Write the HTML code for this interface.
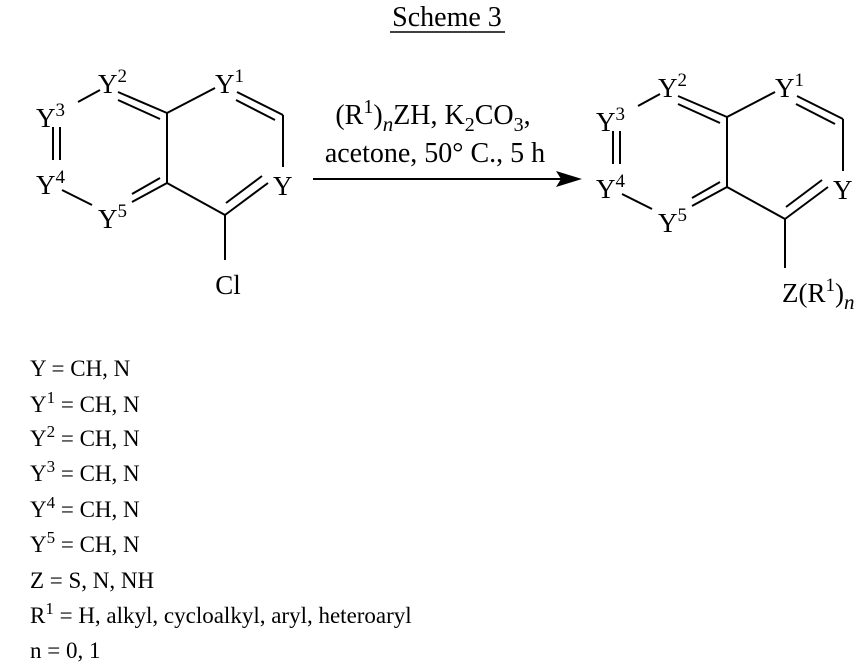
<!DOCTYPE html>
<html><head><style>
body{margin:0;background:#fff;}
svg{display:block;}
text{font-family:"Liberation Serif",serif;font-size:23px;fill:#000;}
.a{font-size:27px;}
.r{font-size:28px;}
</style></head><body>
<svg width="856" height="667" viewBox="0 0 856 667" xmlns="http://www.w3.org/2000/svg">
<text class="r" x="447" y="26" text-anchor="middle">Scheme 3</text>
<line x1="390" y1="32" x2="505" y2="32" stroke="#000" stroke-width="1.5"/>
<text class="r" x="433" y="124" text-anchor="middle">(R<tspan dy="-11" font-size="20">1</tspan><tspan dy="11">)</tspan><tspan dy="7" font-style="italic" font-size="21">n</tspan><tspan dy="-7">ZH, K</tspan><tspan dy="7" font-size="20">2</tspan><tspan dy="-7">CO</tspan><tspan dy="7" font-size="20">3</tspan><tspan dy="-7">,</tspan></text>
<text class="r" x="435" y="162" text-anchor="middle">acetone, 50° C., 5 h</text>
<line x1="313" y1="179" x2="562" y2="179" stroke="#000" stroke-width="2"/>
<polygon points="582,179 556,171 561,179 556,187" fill="#000"/>

<g stroke="#000" stroke-width="2" fill="none">
<line x1="215" y1="88" x2="167" y2="113"/>
<line x1="237" y1="92" x2="283" y2="115"/>
<line x1="236" y1="100" x2="275" y2="120"/>
<line x1="283" y1="115" x2="283" y2="167"/>
<line x1="268" y1="183" x2="225" y2="215"/>
<line x1="262" y1="176" x2="226" y2="203"/>
<line x1="167" y1="183" x2="225" y2="215"/>
<line x1="167" y1="113" x2="167" y2="183"/>
<line x1="118" y1="92" x2="167" y2="113"/>
<line x1="118" y1="100" x2="160" y2="119"/>
<line x1="78" y1="102" x2="100" y2="90"/>
<line x1="53" y1="127" x2="53" y2="160"/>
<line x1="60" y1="127" x2="60" y2="160"/>
<line x1="62" y1="190" x2="92" y2="205"/>
<line x1="132" y1="202" x2="167" y2="183"/>
<line x1="132" y1="194" x2="160" y2="178"/>
<line x1="225" y1="215" x2="225" y2="260"/>
</g>
<g>
<text class="a" x="215" y="93">Y<tspan dy="-11" font-size="19">1</tspan></text>
<text class="a" x="273" y="195">Y</text>
<text class="a" x="98" y="93">Y<tspan dy="-11" font-size="19">2</tspan></text>
<text class="a" x="36" y="127">Y<tspan dy="-11" font-size="19">3</tspan></text>
<text class="a" x="36" y="194">Y<tspan dy="-11" font-size="19">4</tspan></text>
<text class="a" x="98" y="228">Y<tspan dy="-11" font-size="19">5</tspan></text>
<text class="a" x="228" y="294" text-anchor="middle">Cl</text>
</g>

<g transform="translate(560,4)">
<g stroke="#000" stroke-width="2" fill="none">
<line x1="215" y1="88" x2="167" y2="113"/>
<line x1="237" y1="92" x2="283" y2="115"/>
<line x1="236" y1="100" x2="275" y2="120"/>
<line x1="283" y1="115" x2="283" y2="167"/>
<line x1="268" y1="183" x2="225" y2="215"/>
<line x1="262" y1="176" x2="226" y2="203"/>
<line x1="167" y1="183" x2="225" y2="215"/>
<line x1="167" y1="113" x2="167" y2="183"/>
<line x1="118" y1="92" x2="167" y2="113"/>
<line x1="118" y1="100" x2="160" y2="119"/>
<line x1="78" y1="102" x2="100" y2="90"/>
<line x1="53" y1="127" x2="53" y2="160"/>
<line x1="60" y1="127" x2="60" y2="160"/>
<line x1="62" y1="190" x2="92" y2="205"/>
<line x1="132" y1="202" x2="167" y2="183"/>
<line x1="132" y1="194" x2="160" y2="178"/>
<line x1="225" y1="215" x2="225" y2="264"/>
</g>
<text class="a" x="215" y="93">Y<tspan dy="-11" font-size="19">1</tspan></text>
<text class="a" x="273" y="195">Y</text>
<text class="a" x="98" y="93">Y<tspan dy="-11" font-size="19">2</tspan></text>
<text class="a" x="36" y="127">Y<tspan dy="-11" font-size="19">3</tspan></text>
<text class="a" x="36" y="194">Y<tspan dy="-11" font-size="19">4</tspan></text>
<text class="a" x="98" y="228">Y<tspan dy="-11" font-size="19">5</tspan></text>
<text class="a" x="222" y="298">Z(R<tspan dy="-11" font-size="19">1</tspan><tspan dy="11">)</tspan><tspan dy="7" font-style="italic" font-size="21">n</tspan></text>
</g>

<g>
<text x="30" y="376">Y = CH, N</text>
<text x="30" y="412">Y<tspan dy="-9" font-size="17">1</tspan><tspan dy="9"> = CH, N</tspan></text>
<text x="30" y="446">Y<tspan dy="-9" font-size="17">2</tspan><tspan dy="9"> = CH, N</tspan></text>
<text x="30" y="481">Y<tspan dy="-9" font-size="17">3</tspan><tspan dy="9"> = CH, N</tspan></text>
<text x="30" y="517">Y<tspan dy="-9" font-size="17">4</tspan><tspan dy="9"> = CH, N</tspan></text>
<text x="30" y="552">Y<tspan dy="-9" font-size="17">5</tspan><tspan dy="9"> = CH, N</tspan></text>
<text x="30" y="588">Z = S, N, NH</text>
<text x="30" y="623">R<tspan dy="-9" font-size="17">1</tspan><tspan dy="9"> = H, alkyl, cycloalkyl, aryl, heteroaryl</tspan></text>
<text x="30" y="658">n = 0, 1</text>
</g>
</svg>
</body></html>
